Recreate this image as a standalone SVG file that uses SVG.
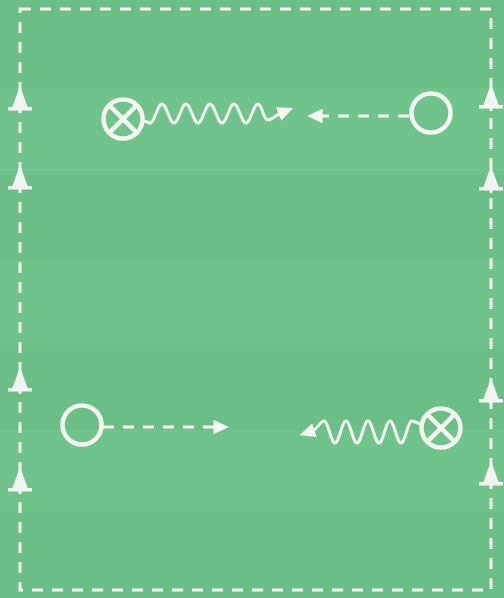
<svg xmlns="http://www.w3.org/2000/svg" width="504" height="598" viewBox="0 0 504 598">
<defs>
<style>
.ln{fill:none;stroke:#f3f7ef;stroke-width:3.2;stroke-linecap:butt}
.dash{stroke-dasharray:11 9}
.bd{fill:none;stroke:#f3f7ef;stroke-width:3;stroke-dasharray:11 9}
.pl{fill:none;stroke:#f3f7ef;stroke-width:4.5}
.cone{fill:#f3f5f2}
.wav{fill:none;stroke:#f3f7ef;stroke-width:3;stroke-linejoin:round}
</style>
<marker id="ah" viewBox="0 0 12 11" markerWidth="16" markerHeight="14.5" refX="2" refY="5.5" orient="auto" markerUnits="userSpaceOnUse">
<path d="M0,0 L12,5.5 L0,11 Z" fill="#f3f7ef"/>
</marker>
<g id="conedef">
<path d="M0,0 L8,22 L-8,22 Z" class="cone"/>
<rect x="-12" y="21" width="24" height="3.5" class="cone"/>
<rect x="-1.4" y="24" width="2.8" height="3" class="cone"/>
</g>
</defs>
<rect width="504" height="598" fill="#70c48b"/>
<g id="stripes" fill="#6abd85" opacity="0.7">
<rect x="0" y="0" width="504" height="88"/>
<rect x="0" y="175" width="504" height="85"/>
<rect x="0" y="345" width="504" height="85"/>
<rect x="0" y="512" width="504" height="86"/>
</g>
<g id="boundary">
<rect x="20" y="9" width="471" height="581" class="bd"/>
</g>
<g id="cones">
<use href="#conedef" x="20" y="86"/>
<use href="#conedef" x="20" y="165"/>
<use href="#conedef" x="20" y="367"/>
<use href="#conedef" x="20" y="467"/>
<use href="#conedef" x="491" y="84"/>
<use href="#conedef" x="491" y="166"/>
<use href="#conedef" x="491" y="378"/>
<use href="#conedef" x="491" y="461"/>
</g>
<g id="connectors">
<path class="wav" d="M144,121 q3,1 6,2 c4.4,0 7.6,-19 12,-19 s7.6,19 12,19 s7.6,-19 12,-19 s7.6,19 12,19 s7.6,-19 12,-19 s7.6,19 12,19 s7.6,-19 12,-19 s7.6,19 12,19 s7.6,-19 12,-19 s5,16 10,16 c4,0 8,-5 13,-7" marker-end="url(#ah)"/>
<line class="ln dash" x1="409" y1="116" x2="320" y2="116" marker-end="url(#ah)"/>
<line class="ln dash" x1="103" y1="427" x2="216" y2="427" marker-end="url(#ah)"/>
<path class="wav" d="M420,424 q-4,-2 -8,-3 c-4,0 -7,22 -11,22 s-7,-22 -11,-22 s-7,22 -11,22 s-7,-22 -11,-22 s-7,22 -11,22 s-7,-22 -11,-22 s-7,22 -11,22 s-7,-22 -11,-22 c-4,0 -6,8 -12,10" marker-end="url(#ah)"/>
</g>
<g id="attacker-top">
<circle cx="123" cy="119" r="19.5" class="pl"/>
<line x1="109.2" y1="105.2" x2="136.8" y2="132.8" class="pl"/>
<line x1="136.8" y1="105.2" x2="109.2" y2="132.8" class="pl"/>
</g>
<g id="player-top">
<circle cx="431" cy="113" r="19.5" class="pl"/>
</g>
<g id="player-bottom">
<circle cx="82" cy="425" r="19.5" class="pl"/>
</g>
<g id="attacker-bottom">
<circle cx="441" cy="428" r="19.5" class="pl"/>
<line x1="427.2" y1="414.2" x2="454.8" y2="441.8" class="pl"/>
<line x1="454.8" y1="414.2" x2="427.2" y2="441.8" class="pl"/>
</g>
</svg>
